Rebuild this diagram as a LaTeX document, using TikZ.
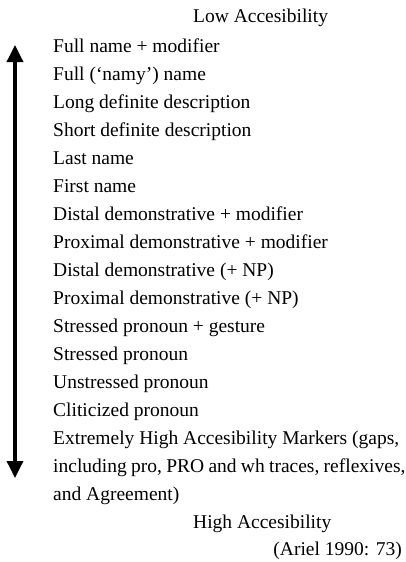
\documentclass[tikz,border=0pt]{standalone}
\usepackage{fontspec}
\setmainfont{Liberation Serif}
\usetikzlibrary{arrows.meta}
\begin{document}
\begin{tikzpicture}[x=1pt,y=-1pt,
  item/.style={anchor=base west,inner sep=0pt,font=\fontsize{19.5}{23}\selectfont},
  scale arrow/.style={line width=3.5pt,{Triangle[width=16pt,length=17pt]}-{Triangle[width=16pt,length=17pt]}}]
\useasboundingbox (0,0) rectangle (405,562);
\node[item] (low) at (193,23) {Low Accesibility};
\foreach \t [count=\i from 0] in {Full name + modifier,Full (‘namy’) name,Long definite description,Short definite description,Last name,First name,Distal demonstrative + modifier,Proximal demonstrative + modifier,Distal demonstrative (+ NP),Proximal demonstrative (+ NP),Stressed pronoun + gesture,Stressed pronoun,Unstressed pronoun,Cliticized pronoun,{Extremely High Accesibility Markers (gaps,},{\spaceskip=0.22em plus 0.1em minus 0.1em including pro, PRO and wh traces, reflexives,},and Agreement)}
  \node[item] (l\i) at (53,52+28*\i) {\t};
\node[item] (high) at (193,528) {High Accesibility};
\node[item,anchor=base east] (src) at (402,555) {(Ariel 1990: 73)};
\coordinate (top) at (15,45);
\coordinate (bot) at (15,478);
\draw[scale arrow] (top) -- (bot);
\end{tikzpicture}
\end{document}
